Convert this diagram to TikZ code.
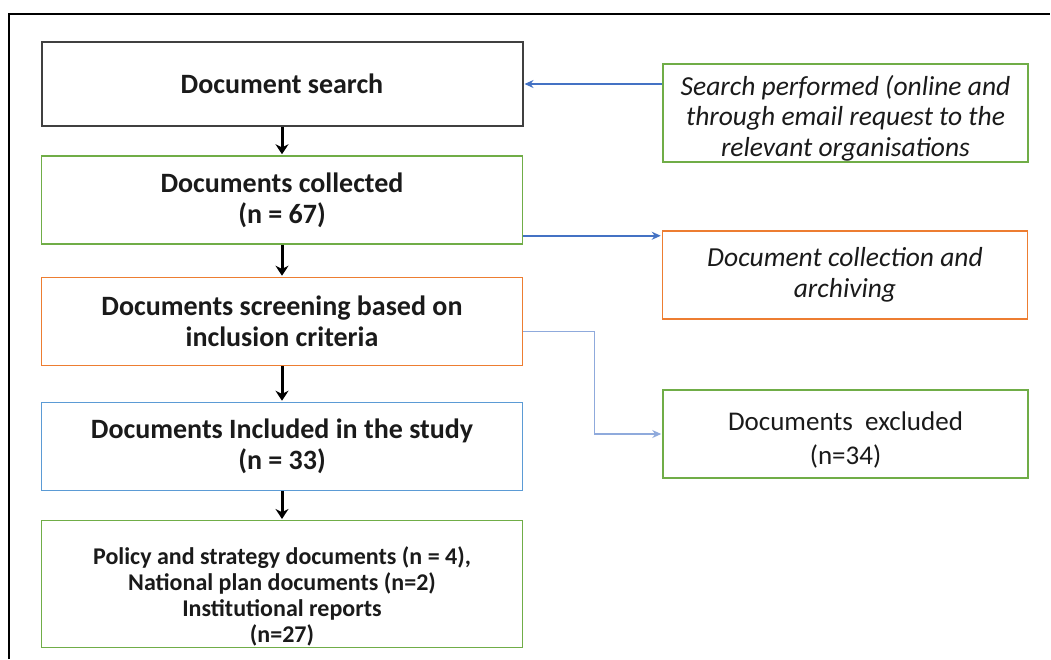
\documentclass[tikz,border=0pt]{standalone}
\usepackage{fontspec}
\setmainfont{Carlito}
\usepackage {tikz}
\usetikzlibrary {positioning,arrows.meta}
\definecolor {boxgray}{HTML}{404040}
\definecolor {boxgreen}{HTML}{70AD47}
\definecolor {boxorange}{HTML}{ED7D31}
\definecolor {boxblue}{HTML}{5B9BD5}
\definecolor {linkblue}{HTML}{4472C4}
\definecolor {linklight}{HTML}{8FAADC}
\definecolor {inkblack}{HTML}{1A1A1A}

\begin{document}
\begin{tikzpicture}[x=1pt,y=-1pt,shorten >=1pt,->]
  \tikzstyle{mainbox}=[rectangle, draw, line width=1.5pt, text=inkblack,
minimum width=481pt, minimum height=88pt, align=center, inner ysep=1pt,
font=\fontsize{28}{31}\selectfont\bfseries]
  \tikzstyle{sidebox}=[rectangle, draw, line width=1.5pt, text=inkblack,
minimum width=365pt, minimum height=88pt, align=center, inner ysep=1pt,
font=\fontsize{27.5}{30.5}\selectfont]
  \tikzstyle{down}=[-{Stealth[length=10pt,width=13pt]}, line width=3pt, black]
  \tikzstyle{link}=[-{Stealth[length=9pt,width=8pt]}, line width=1.5pt, linkblue]
  \useasboundingbox (0,0) rectangle (1051,659);
  \draw[-, line width=2pt] (9,659) -- (9,14) -- (1051,14);

  \node[mainbox, draw=boxgray, line width=2pt, minimum height=84pt] (D_1) at (282,84) {Document search};
  \node[mainbox, draw=boxgreen] (D_2) at (282,200) {Documents collected\\(n = 67)};
  \node[mainbox, draw=boxorange] (D_3) at (282,321.5) {Documents screening based on\\inclusion criteria};
  \node[mainbox, draw=boxblue] (D_4) at (282,446.5) {Documents Included in the study\\(n = 33)};
  \node[mainbox, draw=boxgreen, minimum height=124pt,
font=\fontsize{24}{26}\selectfont\bfseries] (D_5) at (282,584) {\mbox{}\\[17pt]Policy and strategy documents (n = 4),\\National plan documents (n=2)\\Institutional reports\\(n=27)};

  \node[sidebox, draw=boxgreen, minimum height=98pt, font=\fontsize{27.5}{30.5}\selectfont\itshape] (R_1) at (845.5,113) {\mbox{}\\Search performed (online and\\through email request to the\\relevant organisations};
  \node[sidebox, draw=boxorange, font=\fontsize{27.5}{30.5}\selectfont\itshape] (R_2) at (845,275) {Document collection and\\archiving};
  \node[sidebox, draw=boxgreen, font=\fontsize{27}{34}\selectfont] (R_3) at (845.5,434) {\mbox{}\\[-3pt]Documents~~excluded\\(n=34)};

  \draw[down] (D_1) -- (D_2);
  \draw[down] (D_2) -- (D_3);
  \draw[down] (D_3) -- (D_4);
  \draw[down] (D_4) -- (D_5);

  \draw[link] (R_1.west |- D_1.east) -- (D_1.east);
  \draw[link] ([yshift=9pt]D_2.south east) -- ([yshift=9pt]D_2.south east -| R_2.west);
  \draw[link, linklight] ([yshift=-10pt]D_3.east) -- ++(71,0) |- (R_3.west);
\end{tikzpicture}
\end{document}
